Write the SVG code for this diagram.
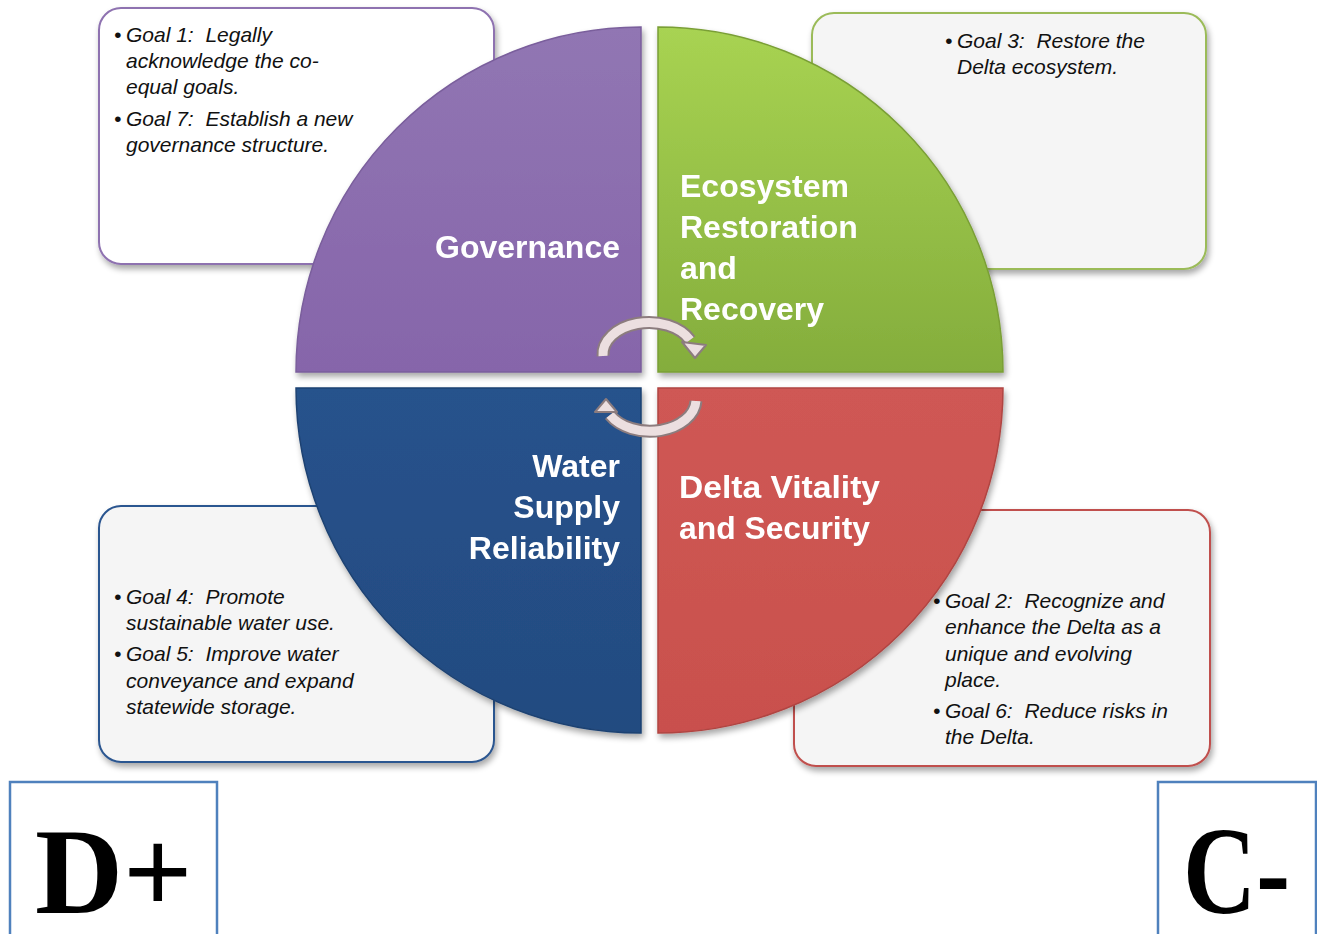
<svg xmlns="http://www.w3.org/2000/svg" width="1317" height="934" viewBox="0 0 1317 934">
<style>
.box{stroke-width:2}
.goal{font-family:"Liberation Sans",Arial,sans-serif;font-style:italic;font-size:21px;fill:#111}
.lbl{font-family:"Liberation Sans",Arial,sans-serif;font-weight:bold;font-size:32px;fill:#fff}
.grade{font-family:"Liberation Serif","Times New Roman",serif;font-weight:bold;fill:#000}
.gbox{fill:#fff;stroke:#4f81bd;stroke-width:2.5}
.arcO{fill:none;stroke:#8c7c7e;stroke-width:13;stroke-linecap:butt}
.arcI{fill:none;stroke:#ecdfe0;stroke-width:9;stroke-linecap:butt}
.head{fill:#ecdfe0;stroke:#8c7c7e;stroke-width:2;stroke-linejoin:round}
</style>
<defs>
<filter id="sh" x="-10%" y="-10%" width="125%" height="125%">
<feGaussianBlur in="SourceAlpha" stdDeviation="3"/>
<feOffset dx="2" dy="4" result="b"/>
<feComponentTransfer><feFuncA type="linear" slope="0.35"/></feComponentTransfer>
<feMerge><feMergeNode/><feMergeNode in="SourceGraphic"/></feMerge>
</filter>
<linearGradient id="gP" x1="0" y1="0" x2="0" y2="1"><stop offset="0" stop-color="#9176b3"/><stop offset="1" stop-color="#8665aa"/></linearGradient>
<linearGradient id="gG" x1="0" y1="0" x2="0" y2="1"><stop offset="0" stop-color="#a8d352"/><stop offset="1" stop-color="#84ad3c"/></linearGradient>
<linearGradient id="gB" x1="0" y1="0" x2="0" y2="1"><stop offset="0" stop-color="#27528c"/><stop offset="1" stop-color="#234b80"/></linearGradient>
<linearGradient id="gR" x1="0" y1="0" x2="0" y2="1"><stop offset="0" stop-color="#cf5854"/><stop offset="1" stop-color="#c9504d"/></linearGradient>
</defs>

<g id="box-governance" filter="url(#sh)">
<rect class="box" x="99" y="8" width="395" height="256" rx="22" fill="#ffffff" stroke="#8e72b0"/>
</g>
<g id="box-ecosystem" filter="url(#sh)">
<rect class="box" x="812" y="13" width="394" height="256" rx="22" fill="#f5f5f5" stroke="#9bbb59"/>
</g>
<g id="box-water" filter="url(#sh)">
<rect class="box" x="99" y="506" width="395" height="256" rx="22" fill="#f5f5f5" stroke="#2c5690"/>
</g>
<g id="box-delta" filter="url(#sh)">
<rect class="box" x="794" y="510" width="416" height="256" rx="22" fill="#f5f5f5" stroke="#c0504d"/>
</g>

<g id="goals-governance">
<text class="goal" x="114" y="42">•</text>
<text class="goal" x="126" y="42">Goal 1:&#160; Legally</text>
<text class="goal" x="126" y="68">acknowledge the co-</text>
<text class="goal" x="126" y="94">equal goals.</text>
<text class="goal" x="114" y="126">•</text>
<text class="goal" x="126" y="126">Goal 7:&#160; Establish a new</text>
<text class="goal" x="126" y="152">governance structure.</text>
</g>
<g id="goals-ecosystem">
<text class="goal" x="945" y="48">•</text>
<text class="goal" x="957" y="48">Goal 3:&#160; Restore the</text>
<text class="goal" x="957" y="74">Delta ecosystem.</text>
</g>
<g id="goals-water">
<text class="goal" x="114" y="604">•</text>
<text class="goal" x="126" y="604">Goal 4:&#160; Promote</text>
<text class="goal" x="126" y="630">sustainable water use.</text>
<text class="goal" x="114" y="661">•</text>
<text class="goal" x="126" y="661">Goal 5:&#160; Improve water</text>
<text class="goal" x="126" y="688">conveyance and expand</text>
<text class="goal" x="126" y="714">statewide storage.</text>
</g>
<g id="goals-delta">
<text class="goal" x="933" y="608">•</text>
<text class="goal" x="945" y="608">Goal 2:&#160; Recognize and</text>
<text class="goal" x="945" y="634">enhance the Delta as a</text>
<text class="goal" x="945" y="661">unique and evolving</text>
<text class="goal" x="945" y="687">place.</text>
<text class="goal" x="933" y="718">•</text>
<text class="goal" x="945" y="718">Goal 6:&#160; Reduce risks in</text>
<text class="goal" x="945" y="744">the Delta.</text>
</g>

<g id="governance" filter="url(#sh)">
<path d="M641,372 L296,372 A345,345 0 0 1 641,27 Z" fill="url(#gP)" stroke="#7a5e9c" stroke-width="1.5"/>
<text class="lbl" x="620" y="258" text-anchor="end">Governance</text>
</g>
<g id="ecosystem" filter="url(#sh)">
<path d="M658,372 L658,27 A345,345 0 0 1 1003,372 Z" fill="url(#gG)" stroke="#7a9f36" stroke-width="1.5"/>
<text class="lbl" x="680" y="197">Ecosystem</text>
<text class="lbl" x="680" y="238">Restoration</text>
<text class="lbl" x="680" y="279">and</text>
<text class="lbl" x="680" y="320">Recovery</text>
</g>
<g id="water" filter="url(#sh)">
<path d="M641,388 L641,733 A345,345 0 0 1 296,388 Z" fill="url(#gB)" stroke="#1e4272" stroke-width="1.5"/>
<text class="lbl" x="620" y="477" text-anchor="end">Water</text>
<text class="lbl" x="620" y="518" text-anchor="end">Supply</text>
<text class="lbl" x="620" y="559" text-anchor="end">Reliability</text>
</g>
<g id="delta" filter="url(#sh)">
<path d="M658,388 L1003,388 A345,345 0 0 1 658,733 Z" fill="url(#gR)" stroke="#b04542" stroke-width="1.5"/>
<text class="lbl" x="679" y="498" textLength="201" lengthAdjust="spacingAndGlyphs">Delta Vitality</text>
<text class="lbl" x="679" y="539" textLength="191" lengthAdjust="spacingAndGlyphs">and Security</text>
</g>

<g id="connectors">
<path class="arcO" d="M603,356 A46,32 0 0 1 690,340"/>
<path class="arcI" d="M603,356 A46,32 0 0 1 690,340"/>
<polygon class="head" points="682,342 706,345 695,358"/>
<path class="arcO" d="M696,401 A46,32 0 0 1 610,415"/>
<path class="arcI" d="M696,401 A46,32 0 0 1 610,415"/>
<polygon class="head" points="617,412 595,412 606,399"/>
</g>

<g id="grade-d">
<rect class="gbox" x="10" y="782" width="207" height="160"/>
<text class="grade" x="35" y="913" font-size="122">D+</text>
</g>
<g id="grade-c">
<rect class="gbox" x="1158" y="782" width="158" height="160"/>
<text class="grade" x="1183" y="913" font-size="124" textLength="107" lengthAdjust="spacingAndGlyphs">C-</text>
</g>
</svg>
